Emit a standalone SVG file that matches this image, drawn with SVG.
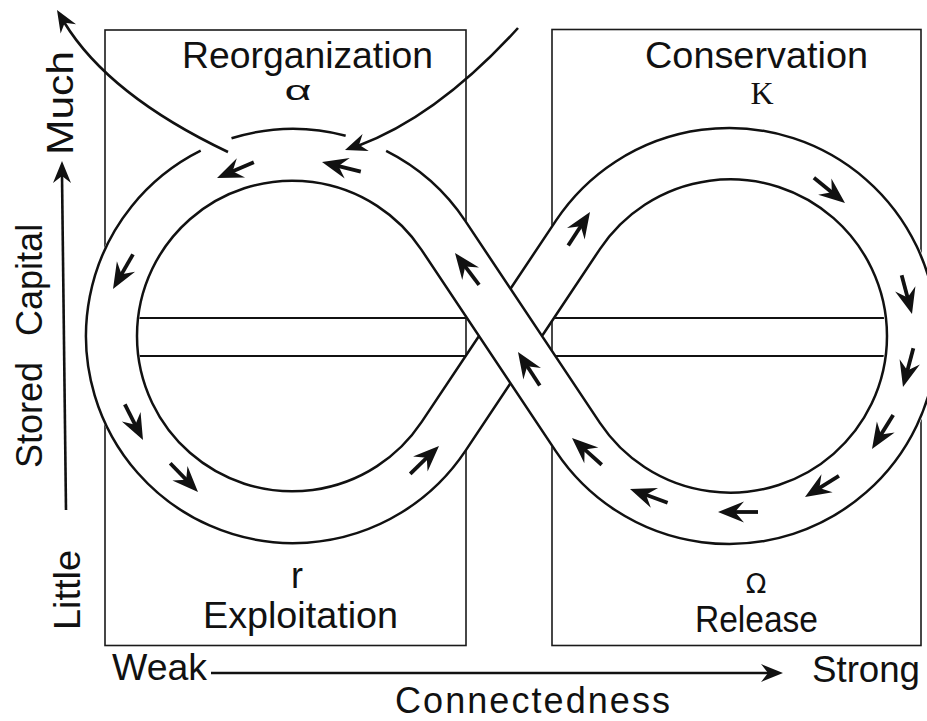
<svg xmlns="http://www.w3.org/2000/svg" xmlns:xlink="http://www.w3.org/1999/xlink" width="927" height="721" viewBox="0 0 927 721">
  <style>
    .box { fill: none; stroke: #1a1a1a; stroke-width: 1.6; }
    .bar { fill: none; stroke: #111; stroke-width: 2.2; }
    .band { fill: none; stroke: #fff; stroke-width: 54; }
    .edge { fill: none; stroke: #111; stroke-width: 2.5; }
    .ext { fill: none; stroke: #111; stroke-width: 2.6; }
    .ax { fill: none; stroke: #111; stroke-width: 2.6; }
    .lbl { font-family: "Liberation Sans", Arial, sans-serif; font-size: 36px; fill: #111; }
    .alpha { font-size: 27px; }
    .omega { font-family: "DejaVu Sans", "Liberation Sans", sans-serif; font-size: 27px; fill: #111; }
    .sym { font-family: "Liberation Serif", "Times New Roman", serif; font-size: 32px; fill: #111; }
  </style>
  <defs>
    <path id="hd" d="M0,0 L-22,-9 L-15,0 L-22,9 Z" fill="#111"/>
    <g id="arw">
      <line x1="-40" y1="0" x2="-14" y2="0" stroke="#111" stroke-width="3.8"/>
      <path d="M0,0 L-26,-10.5 L-17,0 L-26,10.5 Z" fill="#111"/>
    </g>
  </defs>
  <rect x="0" y="0" width="927" height="721" fill="#fff"/>

  <g id="box-reorganization">
    <rect class="box" x="105" y="30" width="361" height="615.5"/>
    <text class="lbl" x="307.5" y="68" text-anchor="middle" textLength="251" lengthAdjust="spacingAndGlyphs">Reorganization</text>
    <text class="lbl alpha" x="298" y="100" text-anchor="middle" textLength="27" lengthAdjust="spacingAndGlyphs">α</text>
  </g>
  <g id="box-conservation">
    <rect class="box" x="552" y="29.5" width="369" height="616"/>
    <text class="lbl" x="756.5" y="68" text-anchor="middle" textLength="223" lengthAdjust="spacingAndGlyphs">Conservation</text>
    <text class="sym" x="762" y="104" text-anchor="middle">K</text>
  </g>
  <g id="box-exploitation">
    <text class="lbl" x="297" y="588" text-anchor="middle">r</text>
    <text class="lbl" x="300.5" y="628" text-anchor="middle" textLength="195" lengthAdjust="spacingAndGlyphs">Exploitation</text>
  </g>
  <g id="box-release">
    <text class="omega" x="756" y="593" text-anchor="middle">Ω</text>
    <text class="lbl" x="756.5" y="632" text-anchor="middle" textLength="123" lengthAdjust="spacingAndGlyphs">Release</text>
  </g>

  <g id="bars">
    <line class="bar" x1="136" y1="318" x2="889" y2="318"/>
    <line class="bar" x1="136" y1="356" x2="889" y2="356"/>
  </g>

  <g id="loop">
    <path class="band" d="M443.47,235.49 L577.92,437.15 A182.35,182.35 0 1 0 577.92,234.85 L443.47,436.51 A181.2,181.2 0 1 1 443.47,235.49 Z"/>
    <path class="edge" d="M386.15,150.98 A207.1,207.1 0 0 1 465.42,221.12 L599.91,422.92 A156.7,156.7 0 1 0 599.91,249.08 L542,336"/>
    <path class="edge" d="M510.5,383.25 L465.42,450.88 A207.1,207.1 0 1 1 200.69,150.67"/>
    <path class="edge" d="M231.51,138.26 A207.1,207.1 0 0 1 345.66,135.67"/>
    <path class="edge" d="M479,336 L421.52,422.14 A155.3,155.3 0 1 1 421.52,249.86 L555.93,451.38 A208,208 0 1 0 555.93,220.62 L510.5,288.75"/>
  </g>

  <g id="connectors">
    <use xlink:href="#arw" href="#arw" transform="translate(217,178) rotate(157)"/>
    <use xlink:href="#arw" href="#arw" transform="translate(322,162) rotate(194)"/>
    <use xlink:href="#arw" href="#arw" transform="translate(113,289) rotate(120)"/>
    <use xlink:href="#arw" href="#arw" transform="translate(143,440) rotate(63)"/>
    <use xlink:href="#arw" href="#arw" transform="translate(198,492) rotate(46)"/>
    <use xlink:href="#arw" href="#arw" transform="translate(439,446) rotate(-44)"/>
    <use xlink:href="#arw" href="#arw" transform="translate(455,253) rotate(-127)"/>
    <use xlink:href="#arw" href="#arw" transform="translate(518,352) rotate(-123)"/>
    <use xlink:href="#arw" href="#arw" transform="translate(572,438) rotate(-138)"/>
    <use xlink:href="#arw" href="#arw" transform="translate(630,489) rotate(-160)"/>
    <use xlink:href="#arw" href="#arw" transform="translate(718,512) rotate(180)"/>
    <use xlink:href="#arw" href="#arw" transform="translate(805,497) rotate(148)"/>
    <use xlink:href="#arw" href="#arw" transform="translate(872,449) rotate(122)"/>
    <use xlink:href="#arw" href="#arw" transform="translate(903,387) rotate(105)"/>
    <use xlink:href="#arw" href="#arw" transform="translate(912,314) rotate(75)"/>
    <use xlink:href="#arw" href="#arw" transform="translate(845,203) rotate(39)"/>
    <use xlink:href="#arw" href="#arw" transform="translate(590,212) rotate(-57)"/>
    <path class="ext" d="M228,152 Q108.6,95.25 64,22"/>
    <use xlink:href="#hd" href="#hd" transform="translate(57,10) rotate(-121)"/>
    <path class="ext" d="M518,28 Q438,116 358.3,145.7"/>
    <use xlink:href="#hd" href="#hd" transform="translate(345,150) rotate(160)"/>
  </g>

  <g id="axes">
    <line class="ax" x1="66" y1="510" x2="62" y2="175"/>
    <use xlink:href="#hd" href="#hd" transform="translate(62,161) rotate(-90)"/>
    <line class="ax" x1="211" y1="673" x2="770" y2="673"/>
    <use xlink:href="#hd" href="#hd" transform="translate(783,673)"/>
    <text class="lbl" transform="translate(42,468) rotate(-90)">Stored<tspan dx="16"> Capital</tspan></text>
    <text class="lbl" transform="translate(80,630) rotate(-90)" textLength="80" lengthAdjust="spacingAndGlyphs">Little</text>
    <text class="lbl" transform="translate(73,155) rotate(-90)" textLength="104" lengthAdjust="spacingAndGlyphs">Much</text>
    <text class="lbl" x="112" y="680" textLength="95" lengthAdjust="spacingAndGlyphs">Weak</text>
    <text class="lbl" x="812" y="682" textLength="108" lengthAdjust="spacingAndGlyphs">Strong</text>
    <text class="lbl" x="395" y="713" textLength="275" lengthAdjust="spacing">Connectedness</text>
  </g>
</svg>
